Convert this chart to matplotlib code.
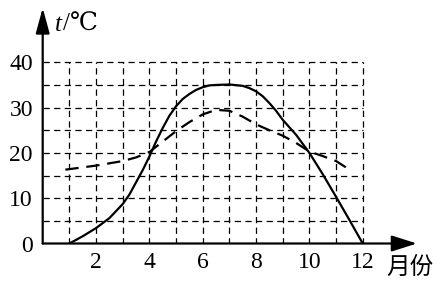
import matplotlib
matplotlib.use("Agg")
import matplotlib.pyplot as plt

# Data
months_solid = [1, 1.5, 2, 2.5, 3, 3.25, 3.5, 3.75, 4, 4.25, 4.5, 4.75, 5, 5.25, 5.5, 5.75, 6, 6.25, 6.5,
                7, 7.5, 7.75, 8, 8.25, 8.5, 8.75, 9, 9.5, 10, 10.5, 11, 11.5, 12]
temp_solid = [0, 1.6, 3.4, 5.6, 8.7, 10.8, 13.5, 16.2, 19.2, 22.5, 25.5, 28.2, 30.3, 31.9, 33.0, 33.9, 34.5, 34.9, 35.0,
              35.1, 34.8, 34.3, 33.6, 32.5, 31.0, 29.3, 27.3, 24.0, 20.0, 15.3, 10.3, 5.2, 0]

months_dashed = [0.85, 2, 3, 3.5, 4, 4.5, 5, 5.5, 6, 6.5, 7, 7.5, 8, 8.5, 9, 9.5, 10, 10.5, 11, 11.45]
temp_dashed = [16.3, 17.2, 18.2, 19.0, 20.2, 22.5, 24.8, 26.8, 28.5, 29.5, 29.3, 28.0, 26.3, 25.0, 23.8, 22.2, 20.3, 19.3, 18.2, 16.5]

x_ticks = [2, 4, 6, 8, 10, 12]
y_ticks = [0, 10, 20, 30, 40]
grid_x = list(range(1, 13))
grid_y = list(range(5, 45, 5))
x_label = "月份"
y_label_var = "t"
y_label_unit = "/℃"

fig = plt.figure(figsize=(4.45, 2.85), dpi=100)
ax = fig.add_axes([42.7 / 445, (285 - 243.5) / 285, 14.03 * 26.67 / 445, 52 * 4.53 / 285])
ax.set_xlim(0, 14.03)
ax.set_ylim(0, 52)
for s in ax.spines.values():
    s.set_visible(False)

# grid
for gx in grid_x:
    ax.plot([gx, gx], [0, 40], color="black", lw=0.9, ls=(0, (5, 3.5)), zorder=1)
for gy in grid_y:
    ax.plot([0, 12], [gy, gy], color="black", lw=0.9, ls=(0, (5, 3.5)), zorder=1)

# curves
ax.plot(months_solid, temp_solid, color="black", lw=1.6, zorder=3)
ax.plot(months_dashed, temp_dashed, color="black", lw=1.6, ls=(0, (6, 3.5)), zorder=3)

# axes with arrows
ax.annotate("", xy=(14.03, 0), xytext=(0, 0), annotation_clip=False,
            arrowprops=dict(arrowstyle="-|>,head_length=1.1,head_width=0.35", lw=1.6,
                            color="black", shrinkA=0, shrinkB=0, mutation_scale=14))
ax.annotate("", xy=(0, 52), xytext=(0, 0), annotation_clip=False,
            arrowprops=dict(arrowstyle="-|>,head_length=1.1,head_width=0.3", lw=1.6,
                            color="black", shrinkA=0, shrinkB=0, mutation_scale=14))

ax.set_xticks(x_ticks)
ax.set_yticks(y_ticks)
ax.tick_params(length=0, labelsize=17)
ax.tick_params(axis="x", pad=6)
ax.tick_params(axis="y", pad=7)
for lab in ax.get_xticklabels() + ax.get_yticklabels():
    lab.set_fontfamily("Liberation Serif")

ax.text(12.9, -5.2, x_label, fontsize=17, family=["Noto Sans CJK SC", "DejaVu Sans"],
        ha="left", va="center", clip_on=False)
ax.text(0.45, 48.3, y_label_var, fontsize=18, family="Liberation Serif", style="italic",
        ha="left", va="center", clip_on=False)
ax.text(0.75, 48.3, y_label_unit, fontsize=18, family=["Liberation Serif", "DejaVu Serif", "Noto Sans CJK SC"],
        ha="left", va="center", clip_on=False)

fig.savefig("out.png", dpi=100)
